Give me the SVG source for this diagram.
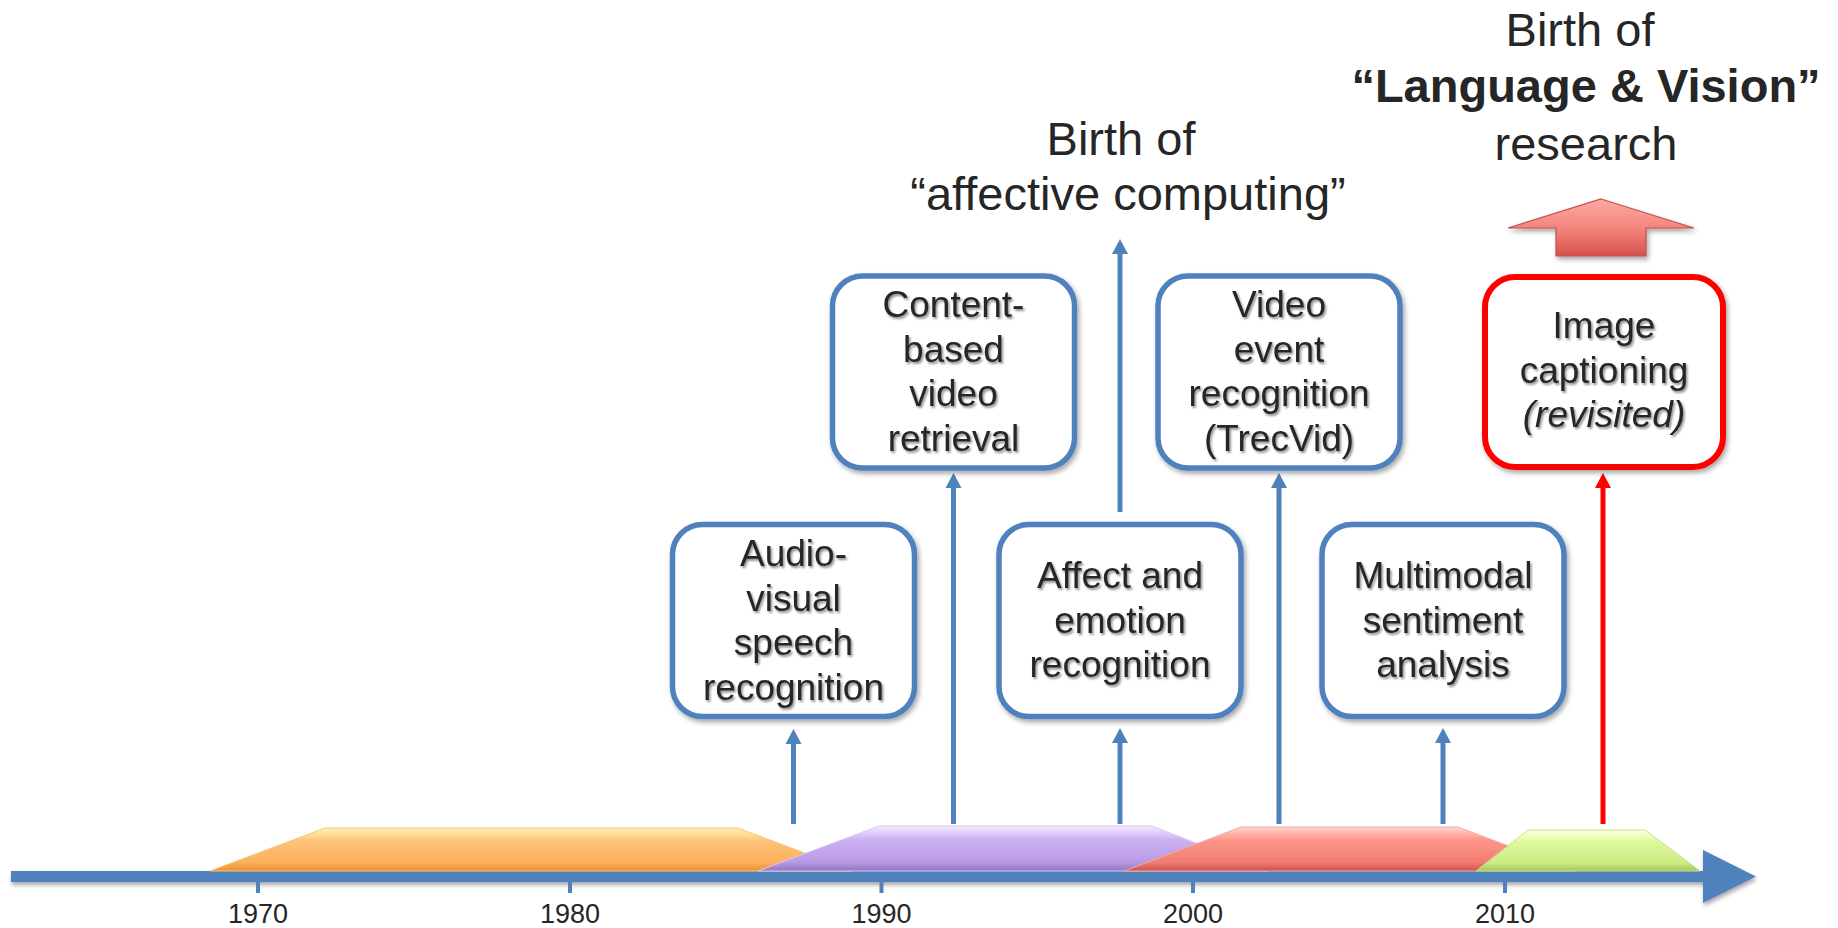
<svg xmlns="http://www.w3.org/2000/svg" width="1838" height="928" viewBox="0 0 1838 928">
  <defs>
    <style>
      .box { fill: #ffffff; stroke: #4f81bd; stroke-width: 5.5; filter: url(#boxShadow); }
      .box-red { fill: #ffffff; stroke: #ff0000; stroke-width: 6; filter: url(#boxShadow); }
      .label { font-family: "Liberation Sans", Arial, sans-serif; font-size: 37px; fill: #262626; text-anchor: middle; filter: url(#textShadow); }
      .title { font-family: "Liberation Sans", Arial, sans-serif; font-size: 47px; fill: #262626; text-anchor: middle; }
      .year { font-family: "Liberation Sans", Arial, sans-serif; font-size: 27px; fill: #262626; text-anchor: middle; }
      .conn { stroke: #4f81bd; stroke-width: 5; fill: none; }
      .conn-red { stroke: #ff0000; stroke-width: 5; fill: none; }
      .tick { fill: #4f81bd; }
    </style>
    <filter id="textShadow" x="-10%" y="-30%" width="130%" height="170%">
      <feDropShadow dx="1.5" dy="2" stdDeviation="1.3" flood-color="#000" flood-opacity="0.45"/>
    </filter>
    <filter id="boxShadow" x="-10%" y="-10%" width="130%" height="130%">
      <feDropShadow dx="2" dy="3" stdDeviation="2.5" flood-color="#000" flood-opacity="0.35"/>
    </filter>
    <filter id="axisShadow" x="-5%" y="-50%" width="110%" height="250%">
      <feDropShadow dx="1" dy="3" stdDeviation="2" flood-color="#000" flood-opacity="0.35"/>
    </filter>
    <marker id="headBlue" viewBox="0 0 15 16" markerWidth="15" markerHeight="16" refX="0" refY="8" orient="auto" markerUnits="userSpaceOnUse">
      <path d="M0,0 L15,8 L0,16 z" fill="#4f81bd"/>
    </marker>
    <marker id="headRed" viewBox="0 0 15 16" markerWidth="15" markerHeight="16" refX="0" refY="8" orient="auto" markerUnits="userSpaceOnUse">
      <path d="M0,0 L15,8 L0,16 z" fill="#ff0000"/>
    </marker>
    <linearGradient id="gOrange" x1="0" y1="0" x2="0" y2="1">
      <stop offset="0" stop-color="#fff0b8"/>
      <stop offset="0.18" stop-color="#ffd98a"/>
      <stop offset="0.3" stop-color="#fdc27a"/>
      <stop offset="0.8" stop-color="#fbb05c"/>
      <stop offset="1" stop-color="#ee8f2e"/>
    </linearGradient>
    <linearGradient id="gPurple" x1="0" y1="0" x2="0" y2="1">
      <stop offset="0" stop-color="#f4ecff"/>
      <stop offset="0.18" stop-color="#dcc8fa"/>
      <stop offset="0.3" stop-color="#cbb2f2"/>
      <stop offset="0.8" stop-color="#b99be4"/>
      <stop offset="1" stop-color="#9275c2"/>
    </linearGradient>
    <linearGradient id="gRed" x1="0" y1="0" x2="0" y2="1">
      <stop offset="0" stop-color="#ffd8d2"/>
      <stop offset="0.18" stop-color="#ffaca2"/>
      <stop offset="0.3" stop-color="#fd958a"/>
      <stop offset="0.8" stop-color="#f37d72"/>
      <stop offset="1" stop-color="#cf5048"/>
    </linearGradient>
    <linearGradient id="gGreen" x1="0" y1="0" x2="0" y2="1">
      <stop offset="0" stop-color="#fbffe0"/>
      <stop offset="0.18" stop-color="#eaffb4"/>
      <stop offset="0.3" stop-color="#dcf89c"/>
      <stop offset="0.8" stop-color="#cdec82"/>
      <stop offset="1" stop-color="#a3c95a"/>
    </linearGradient>
    <linearGradient id="gBigArrow" x1="0" y1="0" x2="0" y2="1">
      <stop offset="0" stop-color="#ffa8a2"/>
      <stop offset="0.5" stop-color="#f3867e"/>
      <stop offset="1" stop-color="#d6524b"/>
    </linearGradient>
  </defs>

  <rect x="0" y="0" width="1838" height="928" fill="#ffffff"/>

  <!-- timeline axis with era bands -->
  <g id="timeline">
    <g filter="url(#axisShadow)">
      <rect x="11" y="871" width="1694" height="11" fill="#4f81bd"/>
      <polygon points="1703,850 1756,876.5 1703,903" fill="#4f81bd"/>
    </g>
    <polygon points="210,871 325,828 738,828 853,871" fill="url(#gOrange)" stroke="#f6c87a" stroke-width="1"/>
    <polygon points="758,871 879,826 1152,826 1268,871" fill="url(#gPurple)" stroke="#d9c6f4" stroke-width="1"/>
    <polygon points="1124,871 1241,827 1458,827 1575,871" fill="url(#gRed)" stroke="#f5aaa2" stroke-width="1"/>
    <polygon points="1476,871 1528,830 1645,830 1700,871" fill="url(#gGreen)" stroke="#c8e08c" stroke-width="1"/>
    <rect class="tick" x="256" y="882" width="4" height="11"/>
    <rect class="tick" x="568" y="882" width="4" height="11"/>
    <rect class="tick" x="879.5" y="882" width="4" height="11"/>
    <rect class="tick" x="1191" y="882" width="4" height="11"/>
    <rect class="tick" x="1503" y="882" width="4" height="11"/>
    <text class="year" x="258" y="923">1970</text>
    <text class="year" x="570" y="923">1980</text>
    <text class="year" x="881.5" y="923">1990</text>
    <text class="year" x="1193" y="923">2000</text>
    <text class="year" x="1505" y="923">2010</text>
  </g>

  <!-- connectors -->
  <g id="connectors">
    <line class="conn" x1="793.5" y1="824" x2="793.5" y2="744" marker-end="url(#headBlue)"/>
    <line class="conn" x1="953.5" y1="824" x2="953.5" y2="488" marker-end="url(#headBlue)"/>
    <line class="conn" x1="1120" y1="512" x2="1120" y2="254" marker-end="url(#headBlue)"/>
    <line class="conn" x1="1120" y1="824" x2="1120" y2="743" marker-end="url(#headBlue)"/>
    <line class="conn" x1="1279" y1="824" x2="1279" y2="488" marker-end="url(#headBlue)"/>
    <line class="conn" x1="1443" y1="824" x2="1443" y2="743" marker-end="url(#headBlue)"/>
    <line class="conn-red" x1="1603" y1="824" x2="1603" y2="488" marker-end="url(#headRed)"/>
  </g>

  <!-- nodes -->
  <g id="node-audio-visual">
    <rect class="box" x="672.5" y="524.5" width="242" height="192" rx="30"/>
    <text class="label" x="793.5" y="566">Audio-</text>
    <text class="label" x="793.5" y="610.5">visual</text>
    <text class="label" x="793.5" y="655">speech</text>
    <text class="label" x="793.5" y="699.5">recognition</text>
  </g>
  <g id="node-content-video">
    <rect class="box" x="832.5" y="276" width="242" height="192" rx="30"/>
    <text class="label" x="953.5" y="317">Content-</text>
    <text class="label" x="953.5" y="361.5">based</text>
    <text class="label" x="953.5" y="406">video</text>
    <text class="label" x="953.5" y="450.5">retrieval</text>
  </g>
  <g id="node-affect">
    <rect class="box" x="999" y="524.5" width="242" height="192" rx="30"/>
    <text class="label" x="1120" y="588">Affect and</text>
    <text class="label" x="1120" y="632.5">emotion</text>
    <text class="label" x="1120" y="677">recognition</text>
  </g>
  <g id="node-video-event">
    <rect class="box" x="1158" y="276" width="242" height="192" rx="30"/>
    <text class="label" x="1279" y="317">Video</text>
    <text class="label" x="1279" y="361.5">event</text>
    <text class="label" x="1279" y="406">recognition</text>
    <text class="label" x="1279" y="450.5">(TrecVid)</text>
  </g>
  <g id="node-multimodal">
    <rect class="box" x="1322" y="524.5" width="242" height="192" rx="30"/>
    <text class="label" x="1443" y="588">Multimodal</text>
    <text class="label" x="1443" y="632.5">sentiment</text>
    <text class="label" x="1443" y="677">analysis</text>
  </g>
  <g id="node-image-captioning">
    <rect class="box-red" x="1485" y="277" width="238" height="190" rx="30"/>
    <text class="label" x="1604" y="338">Image</text>
    <text class="label" x="1604" y="382.5">captioning</text>
    <text class="label" x="1604" y="427" font-style="italic">(revisited)</text>
  </g>

  <!-- milestone captions -->
  <g id="affective-computing">
    <text class="title" x="1121" y="155">Birth of</text>
    <text class="title" x="1128" y="210">“affective computing”</text>
  </g>
  <g id="language-vision">
    <polygon points="1601,199 1694,228 1646,228 1646,256 1556,256 1556,228 1508,228" fill="url(#gBigArrow)" stroke="#c0504d" stroke-width="1.2" filter="url(#boxShadow)"/>
    <text class="title" x="1580" y="46">Birth of</text>
    <text class="title" x="1586" y="102" font-weight="bold">“Language &amp; Vision”</text>
    <text class="title" x="1586" y="160">research</text>
  </g>
</svg>
